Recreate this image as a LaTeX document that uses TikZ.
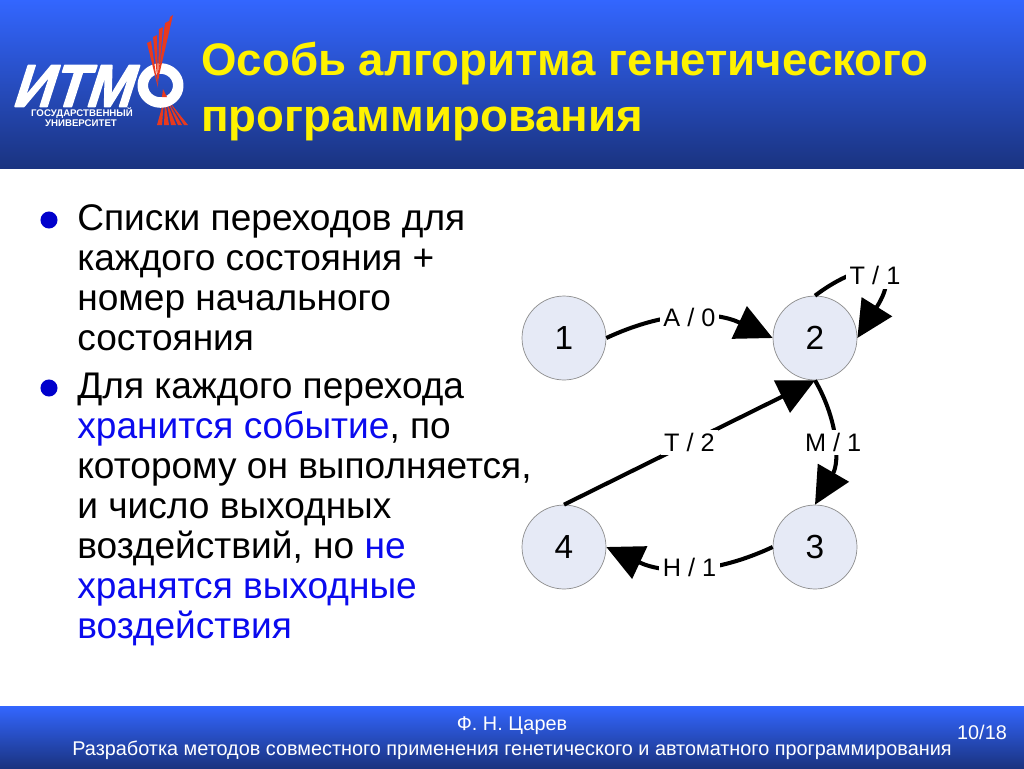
\documentclass[tikz,border=0pt]{standalone}
\usepackage{fontspec}
\setmainfont{Liberation Sans}
\newfontfamily\logofont[FakeBold=2.5,FakeSlant=0.35]{Liberation Sans Bold}
\usetikzlibrary{arrows.meta}
\definecolor{bartop}{HTML}{3366FF}
\definecolor{barbot}{HTML}{1A3380}
\definecolor{statefill}{HTML}{E6EAF6}
\definecolor{hilite}{HTML}{0A0AEE}
\definecolor{bulletblue}{HTML}{0000CC}
\definecolor{logored}{HTML}{E8391E}
\tikzset{
	state/.style={circle,draw=black!45,fill=statefill,line width=0.4pt,minimum size=47.8pt,inner sep=0pt,font=\fontsize{19}{22}\selectfont},
	trans/.style={line width=2.3pt,-{Triangle[length=21pt,width=20pt]}},
	translab/.style={fill=white,inner sep=2pt,font=\fontsize{14.4}{16}\selectfont},
	bodytext/.style={anchor=north west,align=left,inner sep=0pt,font=\fontsize{21.1}{22.76}\selectfont},
	bulletdot/.style={circle,fill=bulletblue,inner sep=0pt,minimum size=9.7pt},
	titletext/.style={anchor=base west,inner sep=0pt,text=yellow,font=\fontsize{25.95}{30}\selectfont\bfseries},
	foottext/.style={anchor=base,inner sep=0pt,text=white,font=\fontsize{11.3}{13}\selectfont},
	logotext/.style={anchor=base,inner sep=0pt,text=white,font=\fontsize{5.5}{6}\selectfont\bfseries},
}
\begin{document}
\begin{tikzpicture}[x=0.02cm,y=-0.02cm,line join=round]
	\useasboundingbox (0,0) rectangle (1024,768);
	% bars
	\shade[top color=bartop,bottom color=barbot] (0,0) rectangle (1024,168);
	\shade[top color=bartop,bottom color=barbot] (0,706) rectangle (1024,768);
	% logo
	\fill[logored] (164,100)--(157,125)--(162,125)--cycle (165,100)--(164,125)--(169,125)--cycle (166,100)--(171,125)--(176,125)--cycle (167,100)--(178,125)--(182,125)--cycle (168,100)--(184,125)--(188,125)--cycle;
	\node[anchor=base west,inner sep=0pt,text=white,xscale=0.92,font=\fontsize{34}{38}\selectfont\logofont] (logoname) at (11,106.5) {ИТМ};
	\draw[white,line width=6pt] (160.5,85.5) ellipse (17.75 and 17);
	\fill[logored] (158,88)--(147,43)--(151,41)--cycle (158,86)--(153,37)--(157,35)--cycle (158,84)--(159,29)--(163,27)--cycle (158,82)--(165,23)--(169,21)--cycle (158,80)--(170,17)--(173,15)--cycle;
	\fill[logored] (163,89)--(167,97)--(162,97)--cycle;
	\node[logotext] (logoa) at (82,116) {ГОСУДАРСТВЕННЫЙ};
	\node[logotext] (logob) at (81,126) {УНИВЕРСИТЕТ};
	% title
	\node[titletext] (title1) at (201,75) {Особь алгоритма генетического};
	\node[titletext] (title2) at (201,131) {программирования};
	% bullets
	\node[bulletdot] (dot1) at (49,220) {};
	\node[bulletdot] (dot2) at (49,388) {};
	\node[bodytext] (text1) at (77,204) {Списки переходов для\\каждого состояния +\\номер начального\\состояния};
	\node[bodytext] (text2) at (77,373) {Для каждого перехода\\\textcolor{hilite}{хранится событие}, по\\которому он выполняется,\\и число выходных\\воздействий, но \textcolor{hilite}{не}\\\textcolor{hilite}{хранятся выходные}\\\textcolor{hilite}{воздействия}};
	% automaton
	\node[state] (n1) at (564,338) {1};
	\node[state] (n2) at (815,338) {2};
	\node[state] (n3) at (815,547) {3};
	\node[state] (n4) at (564,547) {4};
	\draw[trans] (n1.east) to[bend left=25] node[translab]{A / 0} (n2.west);
	\draw[trans] (n2.north) .. controls (865,258) and (905,262) .. node[translab,pos=0.54]{T / 1} (n2.east);
	\draw[trans] (n4.north) -- node[translab]{T / 2} (n2.south);
	\draw[trans] (n2.south) to[bend left=30] node[translab]{M / 1} (n3.north);
	\draw[trans] (n3.west) to[bend left=25] node[translab]{H / 1} (n4.east);
	% footer
	\node[foottext] (foot1) at (512,730) {Ф. Н. Царев};
	\node[foottext] (foot2) at (512,755) {Разработка методов совместного применения генетического и автоматного программирования};
	\node[foottext] (pagenum) at (982,739) {10/18};
\end{tikzpicture}
\end{document}
